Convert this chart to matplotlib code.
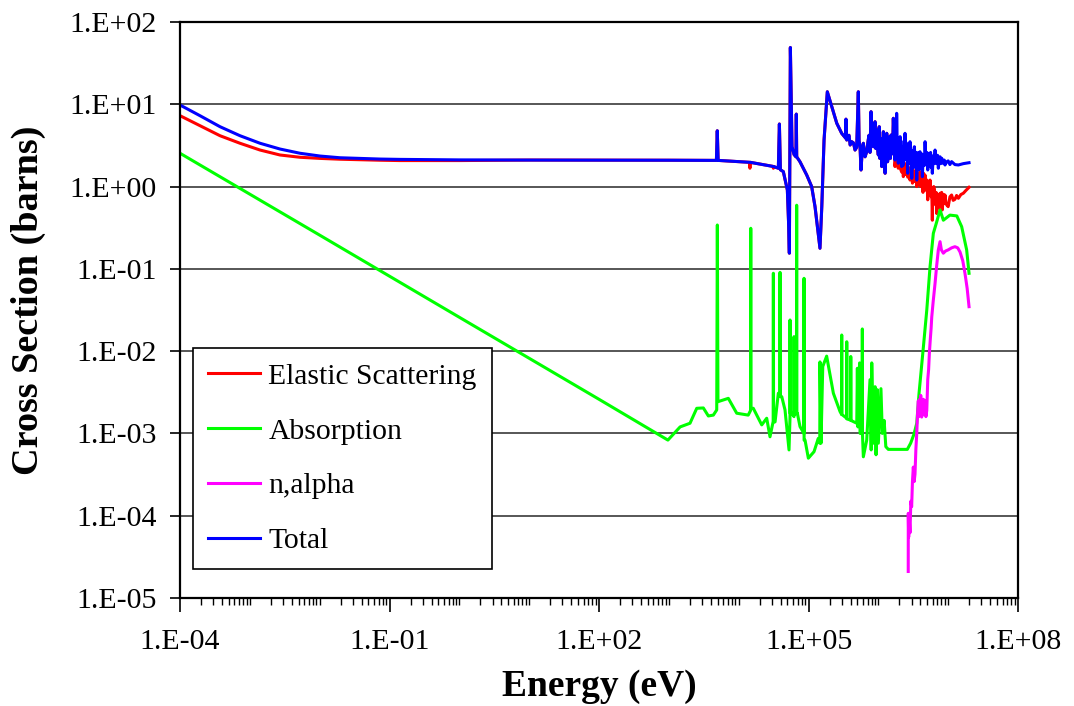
import numpy as np
import matplotlib
matplotlib.use("Agg")
import matplotlib.pyplot as plt
from matplotlib.ticker import FixedLocator, FixedFormatter, NullFormatter
from matplotlib.lines import Line2D

# ------------- cross-section data: (energy in eV, cross section in barns) -------------
# thermal / epithermal region
total_low = [
    (1e-4, 9.8), (1.93e-4, 7.27), (3.74e-4, 5.34), (7.23e-4, 4.15), (1.40e-3, 3.36),
    (2.70e-3, 2.86), (5.23e-3, 2.54), (1.01e-2, 2.35), (1.95e-2, 2.24), (3.78e-2, 2.20),
    (7.31e-2, 2.16), (0.141, 2.14), (1.0, 2.11),
]
elastic_low = [
    (1e-4, 7.27), (1.93e-4, 5.50), (3.74e-4, 4.15), (7.23e-4, 3.36), (1.40e-3, 2.78),
    (2.70e-3, 2.42), (5.23e-3, 2.27), (1.01e-2, 2.20), (1.95e-2, 2.15), (7.31e-2, 2.09),
    (0.141, 2.07), (1.0, 2.07),
]

# resolved resonance region, common to elastic and total
resonance = [
    (10, 2.10), (1000, 2.09), (4800, 2.08), (4940, 4.77), (5080, 2.08), (14300, 1.97),
    (14700, 1.97), (31000, 1.76), (31800, 1.75), (37000, 1.67), (38300, 5.76), (39600, 1.60),
    (43600, 1.52), (49800, 0.91), (52100, 0.325), (53200, 0.155), (55000, 49.0), (58100, 3.05),
    (62100, 2.45), (66000, 2.30), (66900, 7.6), (67800, 2.30), (75600, 2.0), (94400, 1.38),
    (111000, 1.0), (124000, 0.57), (138000, 0.27), (146000, 0.178), (155000, 0.57),
    (167000, 3.68), (186000, 14.2), (215000, 9.4), (254000, 5.88), (299000, 4.43),
    (341000, 3.87), (344000, 6.6), (347000, 3.85), (353000, 3.68), (380000, 4.2),
    (395000, 3.2), (416000, 3.51), (440000, 3.4), (464000, 2.78), (490000, 3.0),
    (517000, 14.2), (530000, 3.6), (547000, 3.05), (565000, 1.59), (590000, 2.9),
    (610000, 3.36), (645000, 2.3), (682000, 2.65), (710000, 3.5), (735000, 4.2),
    (760000, 2.6), (786000, 8.13), (815000, 3.3), (848000, 3.05), (870000, 4.4),
    (897000, 6.14), (920000, 2.9), (948000, 4.87), (975000, 3.0), (1.00e6, 2.42),
    (1.015e6, 4.1), (1.03e6, 5.34), (1.05e6, 2.2), (1.07e6, 2.6), (1.095e6, 3.8),
    (1.12e6, 1.75), (1.15e6, 3.0), (1.18e6, 4.64), (1.215e6, 2.2), (1.25e6, 1.45),
    (1.285e6, 3.2), (1.32e6, 4.44), (1.355e6, 2.0), (1.39e6, 2.31), (1.42e6, 4.0),
    (1.45e6, 3.4), (1.49e6, 2.2), (1.52e6, 4.23), (1.55e6, 3.0), (1.58e6, 2.5),
    (1.61e6, 3.5), (1.64e6, 6.76), (1.69e6, 3.0),
]

# elastic-only interference dips inside the resonance region
elastic_dips = [(14500, 1.67), (31400, 1.67)]

# fast region
total_high = [
    (1.73e6, 2.10), (1.76e6, 3.2), (1.78e6, 4.0), (1.81e6, 2.5), (1.83e6, 7.77),
    (1.86e6, 3.4), (1.88e6, 2.6), (1.91e6, 3.6), (1.93e6, 1.92), (1.96e6, 2.8),
    (1.99e6, 3.2), (2.02e6, 2.2), (2.05e6, 4.04), (2.08e6, 2.9), (2.10e6, 2.3),
    (2.13e6, 3.1), (2.16e6, 1.75), (2.19e6, 2.7), (2.22e6, 3.0), (2.25e6, 1.8),
    (2.28e6, 2.2), (2.31e6, 2.9), (2.34e6, 3.6), (2.37e6, 2.1), (2.41e6, 4.44),
    (2.44e6, 2.9), (2.48e6, 2.4), (2.51e6, 3.4), (2.55e6, 3.3), (2.60e6, 2.1),
    (2.64e6, 1.45), (2.68e6, 2.9), (2.73e6, 2.6), (2.78e6, 1.9), (2.84e6, 3.51),
    (2.88e6, 2.4), (2.92e6, 2.0), (2.96e6, 2.8), (3.01e6, 1.26), (3.07e6, 2.2),
    (3.14e6, 2.4), (3.20e6, 1.7), (3.28e6, 3.05), (3.34e6, 2.3), (3.40e6, 1.9),
    (3.47e6, 2.6), (3.55e6, 1.20), (3.62e6, 2.3), (3.70e6, 2.1), (3.76e6, 2.6),
    (3.82e6, 1.6), (3.88e6, 2.2), (3.95e6, 2.65), (4.02e6, 1.8), (4.10e6, 1.9),
    (4.18e6, 2.5), (4.27e6, 1.32), (4.36e6, 2.1), (4.45e6, 2.4), (4.55e6, 1.8),
    (4.67e6, 3.51), (4.76e6, 2.4), (4.85e6, 2.0), (4.97e6, 2.6), (5.10e6, 1.59),
    (5.20e6, 2.2), (5.30e6, 2.5), (5.40e6, 1.9), (5.50e6, 2.31), (5.60e6, 2.6),
    (5.70e6, 1.7), (5.82e6, 2.2), (5.93e6, 1.45), (6.05e6, 2.0), (6.20e6, 2.4),
    (6.35e6, 1.9), (6.49e6, 2.78), (6.65e6, 2.1), (6.86e6, 1.9), (7.05e6, 2.4),
    (7.23e6, 1.67), (7.45e6, 2.2), (7.65e6, 2.3), (7.85e6, 1.9), (8.09e6, 2.21),
    (8.35e6, 1.95), (8.60e6, 1.9), (8.80e6, 2.1), (9.02e6, 1.83), (9.50e6, 2.0),
    (1.00e7, 2.05), (1.06e7, 1.85), (1.12e7, 2.01), (1.25e7, 1.85), (1.40e7, 1.83),
    (1.65e7, 1.9), (1.99e7, 1.95),
]
elastic_high = [
    (1.73e6, 1.75), (1.78e6, 2.2), (1.83e6, 2.4), (1.88e6, 1.9), (1.93e6, 1.67),
    (1.99e6, 2.3), (2.05e6, 2.0), (2.10e6, 1.6), (2.16e6, 1.5), (2.22e6, 2.0),
    (2.28e6, 1.32), (2.34e6, 1.8), (2.41e6, 1.9), (2.48e6, 1.4), (2.55e6, 1.83),
    (2.60e6, 1.4), (2.64e6, 1.3), (2.73e6, 1.7), (2.84e6, 1.20), (2.92e6, 1.45),
    (3.00e6, 1.5), (3.08e6, 1.1), (3.17e6, 1.59), (3.26e6, 1.3), (3.35e6, 1.15),
    (3.45e6, 1.4), (3.55e6, 1.00), (3.65e6, 1.25), (3.75e6, 1.3), (3.85e6, 1.05),
    (3.95e6, 1.52), (4.02e6, 1.0), (4.10e6, 1.2), (4.18e6, 1.3), (4.27e6, 1.10),
    (4.36e6, 0.85), (4.45e6, 1.45), (4.55e6, 1.0), (4.67e6, 1.38), (4.76e6, 1.1),
    (4.85e6, 0.9), (4.97e6, 1.2), (5.10e6, 0.69), (5.20e6, 1.1), (5.30e6, 1.0),
    (5.40e6, 0.8), (5.50e6, 1.20), (5.60e6, 0.95), (5.70e6, 0.75), (5.82e6, 0.95),
    (5.93e6, 0.39), (6.02e6, 0.85), (6.10e6, 0.7), (6.22e6, 1.0), (6.34e6, 0.91),
    (6.47e6, 0.65), (6.60e6, 0.6), (6.73e6, 0.85), (6.86e6, 0.47), (7.03e6, 0.8),
    (7.20e6, 0.75), (7.42e6, 0.55), (7.65e6, 0.83), (7.78e6, 0.65), (7.90e6, 0.6),
    (8.07e6, 0.85), (8.24e6, 0.52), (8.42e6, 0.7), (8.60e6, 0.8), (8.80e6, 0.62),
    (9.02e6, 0.79), (9.25e6, 0.65), (9.50e6, 0.6), (1.00e7, 0.57), (1.06e7, 0.75),
    (1.12e7, 0.79), (1.18e7, 0.68), (1.25e7, 0.7), (1.32e7, 0.78), (1.40e7, 0.72),
    (1.52e7, 0.8), (1.65e7, 0.83), (1.80e7, 0.9), (1.99e7, 0.98),
]

absorption = [
    (1e-4, 2.54), (1e-2, 0.257), (1.0, 0.0258), (100, 2.6e-3), (970, 8.3e-4),
    (1450, 1.2e-3), (2010, 1.33e-3), (2510, 2.02e-3), (3120, 2.04e-3), (3680, 1.63e-3),
    (4340, 1.67e-3), (4850, 1.93e-3), (4950, 0.341), (5050, 2.43e-3), (7110, 2.67e-3),
    (9380, 1.76e-3), (13700, 1.67e-3), (14800, 1.9e-3), (14900, 0.311), (15000, 2.02e-3),
    (16200, 2.02e-3), (21400, 1.27e-3), (25200, 1.53e-3), (28100, 9.1e-4), (31200, 1.4e-3),
    (31400, 0.0883), (31600, 1.38e-3), (33200, 1.38e-3), (37000, 3.08e-3), (39000, 2.9e-3),
    (39100, 0.0906), (39300, 2.8e-3), (41400, 2.8e-3), (46100, 1.93e-3), (52600, 6.3e-4),
    (54300, 1.5e-3), (54400, 0.0239), (54600, 1.76e-3), (57500, 1.76e-3), (62000, 1.6e-3),
    (62100, 0.0150), (62300, 1.7e-3), (67500, 1.76e-3), (67700, 0.593), (67900, 1.76e-3),
    (69200, 1.76e-3), (75600, 1.21e-3), (86100, 1.0e-3), (86300, 0.0767), (86500, 8.3e-4),
    (89200, 8.3e-4), (99500, 5.0e-4), (120000, 6.0e-4), (138000, 8.7e-4), (145000, 7.6e-4),
    (146000, 7.4e-3), (151000, 7.6e-4), (160000, 6.5e-3), (182000, 8.7e-3), (227000, 3.08e-3),
    (283000, 1.84e-3), (298000, 1.7e-3), (299000, 0.0157), (300500, 1.7e-3), (352000, 1.53e-3),
    (353000, 0.013), (354500, 1.5e-3), (402000, 1.45e-3), (403000, 8.6e-3), (404500, 1.44e-3),
    (491000, 1.33e-3), (501000, 6.2e-3), (510000, 1.2e-3), (540000, 7.2e-3), (547000, 1.0e-3),
    (588000, 1.0e-3), (590000, 0.0186), (592000, 1.0e-3), (610000, 5.2e-4), (682000, 8.3e-4),
    (760000, 4.5e-3), (790000, 6.3e-4), (805000, 7.2e-3), (847000, 7.6e-4), (898000, 3.7e-3),
    (927000, 5.5e-4), (968000, 3.4e-3), (1.0e6, 7.6e-4), (1.09e6, 3.5e-3), (1.14e6, 1.0e-3),
    (1.21e6, 1.44e-3), (1.28e6, 6.9e-4), (1.39e6, 6.4e-4), (2.05e6, 6.4e-4), (2.6e6, 6.4e-4),
    (2.9e6, 7.6e-4), (3.24e6, 9.8e-4), (3.55e6, 1.33e-3), (3.83e6, 3.1e-3), (4.42e6, 0.0113),
    (4.94e6, 0.0316), (5.5e6, 0.106), (6.13e6, 0.27), (6.87e6, 0.375), (7.65e6, 0.52),
    (8.53e6, 0.39), (1.06e7, 0.45), (1.33e7, 0.44), (1.56e7, 0.326), (1.84e7, 0.17),
    (1.99e7, 0.0883),
]

n_alpha = [
    (2.68e6, 2.1e-5), (2.685e6, 1.07e-4), (2.72e6, 5.5e-5), (2.76e6, 1.0e-4), (2.84e6, 6.2e-5),
    (2.92e6, 1.5e-4), (3.00e6, 1.29e-4), (3.08e6, 2.6e-4), (3.17e6, 3.9e-4), (3.26e6, 2.6e-4),
    (3.35e6, 3.2e-4), (3.45e6, 6.5e-4), (3.55e6, 1.0e-3), (3.65e6, 1.8e-3), (3.74e6, 2.5e-3),
    (3.82e6, 1.6e-3), (3.90e6, 2.6e-3), (3.95e6, 1.8e-3), (4.05e6, 2.9e-3), (4.18e6, 1.58e-3),
    (4.30e6, 2.4e-3), (4.42e6, 2.6e-3), (4.55e6, 1.7e-3), (4.66e6, 2.5e-3), (4.80e6, 1.6e-3),
    (4.94e6, 1.9e-3), (5.10e6, 4.5e-3), (5.25e6, 6.0e-3), (5.38e6, 9.4e-3), (5.55e6, 0.014),
    (5.70e6, 0.019), (5.82e6, 0.026), (6.10e6, 0.04), (6.49e6, 0.0667), (6.85e6, 0.11),
    (7.23e6, 0.17), (7.65e6, 0.214), (8.00e6, 0.17), (8.53e6, 0.155), (9.20e6, 0.165),
    (1.00e7, 0.17), (1.12e7, 0.18), (1.25e7, 0.186), (1.37e7, 0.18), (1.48e7, 0.16),
    (1.62e7, 0.125), (1.74e7, 0.0883), (1.87e7, 0.058), (1.99e7, 0.0347),
]

series_labels = ["Elastic Scattering", "Absorption", "n,alpha", "Total"]
series_colors = ["#ff0000", "#00ff00", "#ff00ff", "#0000ff"]

x_tick_values = [1e-4, 1e-1, 1e2, 1e5, 1e8]
x_tick_labels = ["1.E-04", "1.E-01", "1.E+02", "1.E+05", "1.E+08"]
y_tick_values = [1e-5, 1e-4, 1e-3, 1e-2, 1e-1, 1e0, 1e1, 1e2]
y_tick_labels = ["1.E-05", "1.E-04", "1.E-03", "1.E-02", "1.E-01", "1.E+00", "1.E+01", "1.E+02"]


def as_xy(*segments):
    """Join (E, xs) segments into two arrays sorted by energy."""
    pts = np.array([p for seg in segments for p in seg], dtype=float)
    order = np.argsort(pts[:, 0], kind="stable")
    return pts[order, 0], pts[order, 1]


el_E, el_xs = as_xy(elastic_low, resonance, elastic_dips, elastic_high)
ab_E, ab_xs = as_xy(absorption)
na_E, na_xs = as_xy(n_alpha)
tot_E, tot_xs = as_xy(total_low, resonance, total_high)

# ---------------- figure ----------------
plt.rcParams["font.family"] = ["Liberation Serif", "DejaVu Serif"]

fig = plt.figure(figsize=(10.74, 7.06), dpi=100)
ax = fig.add_axes([180 / 1074, 108 / 706, 838 / 1074, 576 / 706])

lw = 2.2
ax.plot(el_E, el_xs, color=series_colors[0], lw=lw)
ax.plot(ab_E, ab_xs, color=series_colors[1], lw=lw)
ax.plot(na_E, na_xs, color=series_colors[2], lw=lw)
ax.plot(tot_E, tot_xs, color=series_colors[3], lw=lw)

ax.set_xscale("log")
ax.set_yscale("log")
ax.set_xlim(1e-4, 1e8)
ax.set_ylim(1e-5, 1e2)

ax.xaxis.set_major_locator(FixedLocator(x_tick_values))
ax.xaxis.set_major_formatter(FixedFormatter(x_tick_labels))
minor_x = [k * 10.0 ** n for n in range(-4, 8) for k in range(1, 10)]
ax.xaxis.set_minor_locator(FixedLocator(minor_x))
ax.xaxis.set_minor_formatter(NullFormatter())

ax.yaxis.set_major_locator(FixedLocator(y_tick_values))
ax.yaxis.set_major_formatter(FixedFormatter(y_tick_labels))
ax.yaxis.set_minor_locator(FixedLocator([]))

ax.tick_params(axis="x", which="major", direction="out", length=10, width=1.2,
               labelsize=21.5, pad=12, color="black")
ax.tick_params(axis="x", which="minor", direction="out", length=5, width=1.0)
ax.tick_params(axis="y", which="major", direction="out", length=7, width=1.2,
               labelsize=21.5, pad=10)

ax.yaxis.grid(True, which="major", color="#3a3a3a", lw=1.2)
ax.set_axisbelow(True)
for s in ax.spines.values():
    s.set_linewidth(1.6)
    s.set_color("black")

handles = [Line2D([], [], color=c, lw=2.2) for c in series_colors]
leg = ax.legend(handles, series_labels, loc="lower left",
                bbox_to_anchor=(13 / 838, 29 / 576), borderaxespad=0,
                fontsize=21.3, frameon=True, fancybox=False, framealpha=1,
                edgecolor="black", borderpad=0.5, labelspacing=0.95,
                handlelength=1.75, handletextpad=0.3)
leg.get_frame().set_linewidth(1.2)

fig.text(599 / 1074, 1 - 686 / 706, "Energy (eV)", ha="center", va="center",
         fontsize=27, fontweight="bold")
fig.text(28 / 1074, 1 - 300 / 706, "Cross Section (barns)", ha="center", va="center",
         rotation=90, fontsize=27.5, fontweight="bold")

fig.savefig("out.png", dpi=100)
